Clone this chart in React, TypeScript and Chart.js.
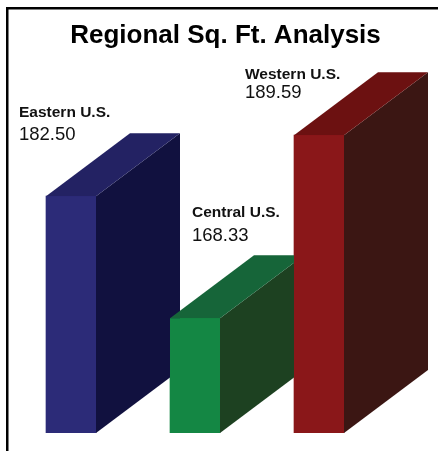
import React, { useEffect, useRef } from "react";
import { Chart, registerables } from "chart.js";

Chart.register(...registerables);

const titleText = "Regional Sq. Ft. Analysis";
const categories = ["Eastern U.S.", "Central U.S.", "Western U.S."];
const values = [182.5, 168.33, 189.59];
const valueLabels = ["182.50", "168.33", "189.59"];

const frontColors = ["#2c2b78", "#148744", "#8a1719"];
const topColors = ["#232263", "#166539", "#6c1111"];
const sideColors = ["#11113f", "#1d4121", "#3b1613"];

const DEPTH_X = 84;
const DEPTH_Y = 63;
const FONT = "Arial, 'Liberation Sans', Helvetica, sans-serif";

// label placement relative to the top-left corner of each bar's front face
const labelOffsets = [
  { dx: -27, nameDy: -79, valueDy: -56 },
  { dx: 22, nameDy: -101, valueDy: -77 },
  { dx: -49, nameDy: -56, valueDy: -37 },
];

const framePlugin = {
  id: "frame",
  beforeDraw(chart: any) {
    const ctx = chart.ctx;
    ctx.save();
    ctx.fillStyle = "#ffffff";
    ctx.fillRect(0, 0, chart.width, chart.height);
    ctx.fillStyle = "#000000";
    ctx.fillRect(6, 7, 2.5, chart.height - 7);
    ctx.fillRect(6, 7, chart.width - 7, 2.5);
    ctx.font = `bold 26px ${FONT}`;
    ctx.textAlign = "center";
    ctx.textBaseline = "alphabetic";
    ctx.fillText(titleText, chart.width / 2 + 6, 43);
    ctx.restore();
  },
};

const bar3dPlugin = {
  id: "bar3d",
  afterDatasetsDraw(chart: any) {
    const ctx = chart.ctx;
    const meta = chart.getDatasetMeta(0);
    const bottom = chart.chartArea.bottom;
    ctx.save();
    meta.data.forEach((el: any, i: number) => {
      const p = el.getProps(["x", "y", "base", "width"], true);
      const x = p.x, y = p.y, width = p.width;
      const base = Math.min(p.base, bottom);
      const l = x - width / 2;
      const r = x + width / 2;
      // side face
      ctx.fillStyle = sideColors[i];
      ctx.beginPath();
      ctx.moveTo(r, y);
      ctx.lineTo(r + DEPTH_X, y - DEPTH_Y);
      ctx.lineTo(r + DEPTH_X, base - DEPTH_Y);
      ctx.lineTo(r, base);
      ctx.closePath();
      ctx.fill();
      // top face
      ctx.fillStyle = topColors[i];
      ctx.beginPath();
      ctx.moveTo(l, y);
      ctx.lineTo(l + DEPTH_X, y - DEPTH_Y);
      ctx.lineTo(r + DEPTH_X, y - DEPTH_Y);
      ctx.lineTo(r, y);
      ctx.closePath();
      ctx.fill();
      // front face
      ctx.fillStyle = frontColors[i];
      ctx.fillRect(l, y, width, base - y);
    });
    // labels
    ctx.fillStyle = "#111111";
    ctx.textAlign = "left";
    ctx.textBaseline = "alphabetic";
    meta.data.forEach((el: any, i: number) => {
      const { x, y, width } = el.getProps(["x", "y", "width"], true);
      const l = x - width / 2;
      const off = labelOffsets[i];
      ctx.font = `bold 15.5px ${FONT}`;
      ctx.fillText(categories[i], l + off.dx, y + off.nameDy);
      ctx.font = `18.5px ${FONT}`;
      ctx.fillText(valueLabels[i], l + off.dx, y + off.valueDy);
    });
    ctx.restore();
  },
};

export default function App() {
  const canvasRef = useRef<HTMLCanvasElement | null>(null);

  useEffect(() => {
    if (!canvasRef.current) return;
    const chart = new Chart(canvasRef.current, {
      type: "bar",
      data: {
        labels: categories,
        datasets: [
          {
            data: values,
            backgroundColor: frontColors,
            borderWidth: 0,
            barThickness: 50,
          },
        ],
      },
      options: {
        animation: false,
        responsive: false,
        devicePixelRatio: 1,
        layout: { padding: { top: 45.5, left: 9, right: 58, bottom: 18 } },
        plugins: {
          legend: { display: false },
          tooltip: { enabled: false },
          title: { display: false },
        },
        scales: {
          x: { display: false, offset: true },
          y: { display: false, beginAtZero: false, min: 155, max: 200 },
        },
      },
      plugins: [framePlugin, bar3dPlugin],
    });
    return () => chart.destroy();
  }, []);

  return (
    <div style={{ position: "fixed", left: 0, top: 0, width: 439, height: 451, background: "#fff", overflow: "hidden" }}>
      <canvas ref={canvasRef} width={439} height={451} style={{ display: "block" }} />
    </div>
  );
}
